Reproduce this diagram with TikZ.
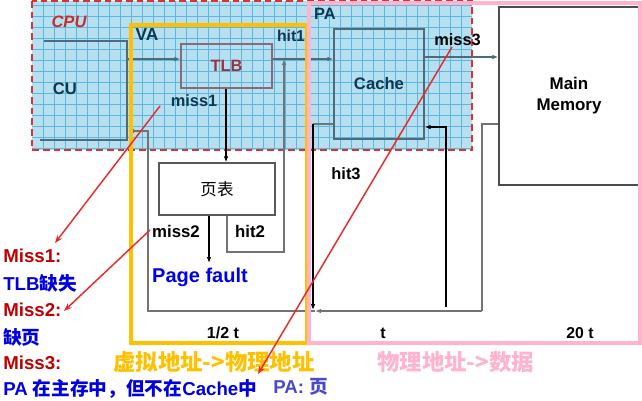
\documentclass[tikz,border=0pt]{standalone}
\usepackage{fontspec}
\setmainfont{Liberation Sans}
\newfontfamily\cjk{Noto Sans CJK SC}
\usetikzlibrary{arrows.meta}

\definecolor{gridfill}{HTML}{B6DFF0}
\definecolor{gridline}{HTML}{5DB8E0}
\definecolor{dashred}{HTML}{E03030}
\definecolor{ink}{HTML}{0E3850}
\definecolor{slate}{HTML}{4D6B7B}
\definecolor{tlbred}{HTML}{993344}
\definecolor{tlbedge}{HTML}{8A6A7A}
\definecolor{mred}{HTML}{C00000}
\definecolor{mblue}{HTML}{0000E0}
\definecolor{pfblue}{HTML}{0000EE}
\definecolor{pablue}{HTML}{4A4AC8}
\definecolor{yframe}{HTML}{FFC000}
\definecolor{pframe}{HTML}{FFB3CC}
\definecolor{redarrow}{HTML}{E82A2A}

\newcommand\fsz[1]{\fontsize{#1}{#1}\selectfont}

\tikzset{
  lbl/.style={font=\bfseries\fsz{12.3}, text=ink, inner sep=0pt},
  blk/.style={font=\bfseries\fsz{12.3}, text=black, inner sep=0pt},
  legend/.style={font=\bfseries\fsz{14}, inner sep=0pt, anchor=west},
  unitbox/.style={draw, rectangle, inner sep=0pt},
  tip/.style={-{Latex[length=4.5pt,width=3.5pt]}},
  wire/.style={line width=1.4pt, draw=slate},
  thinwire/.style={line width=0.9pt, draw=black},
  grayline/.style={line width=1.4pt, draw=black!55},
  redlink/.style={draw=redarrow, line width=1.1pt, -{Stealth[length=6pt,width=4.5pt]}},
  frame/.style={line width=2.3pt},
}

\begin{document}
\begin{tikzpicture}[x=0.75pt,y=-0.75pt]
\useasboundingbox (0,0) rectangle (642,400);

% CPU region: gridded background with dashed red outline
\fill[gridfill] (32,1) rectangle (472,150);
\begin{scope}
  \clip (32,1) rectangle (472,150);
  \foreach \gx in {43,54,...,472} \draw[gridline, line width=0.5pt] (\gx,1) -- (\gx,150);
  \foreach \gy in {5,16,...,150} \draw[gridline, line width=0.5pt] (32,\gy) -- (472,\gy);
\end{scope}
\draw[dashred, line width=1.4pt, dash pattern=on 5pt off 3pt] (32,1) rectangle (472,150);

% units
\node[unitbox, draw=tlbedge, line width=1pt, minimum width=91*0.75pt, minimum height=44*0.75pt,
      font=\bfseries\fsz{12.3}, text=tlbred] (tlb) at (226.5,66) {TLB};
\node[unitbox, draw=black!65, line width=1.1pt, minimum width=116*0.75pt, minimum height=52*0.75pt,
      font=\cjk\fsz{12.4}] (pt) at (217,189) {页表};
\node[unitbox, draw=slate, line width=1.1pt, minimum width=90*0.75pt, minimum height=110*0.75pt,
      font=\bfseries\fsz{12.5}, text=ink] (cache) at (379,84) {Cache};
\node[unitbox, draw=black!70, line width=1.1pt, minimum width=140*0.75pt, minimum height=178*0.75pt,
      font=\bfseries\fsz{12.7}, align=center] (mm) at (569,96) {Main\\[3pt]Memory};

% connector anchor points
\coordinate (cuA) at (44,41);
\coordinate (cuB) at (40,140);
\coordinate (va) at (127,59);
\coordinate (cuIn) at (128,131);
\coordinate (retX) at (148,311);
\coordinate (h2) at (284,252);
\coordinate (pf) at (209,263);
\coordinate (out) at (424,57);
\coordinate (cL) at (313,124);
\coordinate (cLd) at (313,310);
\coordinate (mR) at (482,124);
\coordinate (mRb) at (482,311);
\coordinate (mIn) at (315,311);
\coordinate (cR) at (446,127);
\coordinate (cRb) at (446,307);

% CU block outline
\draw[wire] (cuA) -| (cuB -| va) -- (cuB);
\node[lbl, font=\bfseries\fsz{12.5}] (cu) at (65,89) {CU};

% VA -> TLB -> Cache
\draw[wire, line width=1.1pt, tip] (va) -- (tlb.west |- va);
\draw[wire, line width=1.1pt, tip] (tlb.east |- va) -- (cache.west |- va);
% TLB miss -> page table
\draw[thinwire, tip] (tlb.south -| 226,0) -- (pt.north -| 226,0);
% page table miss -> page fault
\draw[thinwire, tip] (pt.south -| pf) -- (pf);
% page table hit -> PA line
\draw[grayline, line width=1.1pt, tip] (pt.south -| 227,0) |- (h2) -- (h2 |- va);
% Cache miss -> main memory
\draw[wire, line width=1.1pt, tip] (out) -- (mm.west |- out);
% Cache hit -> data back to CU
\draw[grayline, line width=1.1pt] (cache.west |- cL) -- (cL);
\draw[thinwire, tip] (cL) -- (cLd);
% Main memory -> data back
\draw[grayline] (mm.west |- mR) -- (mR) -- (mRb);
\draw[grayline, tip] (mRb) -- (mIn);
% data back into CU
\draw[grayline, line width=1.1pt, tip] (mIn) -- (retX) |- (cuIn);
% Main memory refill into Cache
\draw[thinwire, tip] (cRb) -- (cR) -- (cache.east |- cR);

% labels inside the CPU region
\node[lbl, text=dashred!90!black, font=\bfseries\itshape\fsz{12.4}] (cpu) at (69,22) {CPU};
\node[lbl, font=\bfseries\fsz{13}] (lva) at (147,35) {VA};
\node[lbl, font=\bfseries\fsz{11.8}] (lhit1) at (291,36) {hit1};
\node[lbl] (lmiss1) at (194,101) {miss1};
\node[lbl] (lpa) at (325,14) {PA};
\node[blk] (lmiss3) at (457.5,40) {miss3};

% labels below
\node[blk, font=\bfseries\fsz{12.6}] (lmiss2) at (176,231) {miss2};
\node[blk, font=\bfseries\fsz{12.6}] (lhit2) at (250,231) {hit2};
\node[inner sep=0pt, font=\bfseries\fsz{15}, text=pfblue] (pfault) at (200,277) {Page fault};
\node[blk] (lhit3) at (346,174) {hit3};
\node[blk, font=\bfseries\fsz{12}] (th) at (223,333) {1/2 t};
\node[blk, font=\bfseries\fsz{12}] (t1) at (383,333) {t};
\node[blk, font=\bfseries\fsz{11.8}] (t20) at (580,333) {20 t};

% stage frames
\draw[frame, yframe] (131,25) rectangle (307,343);
\draw[frame, pframe] (309,3) rectangle (640,343);
\node[inner sep=0pt, anchor=west, text=yframe, font=\cjk\bfseries\fsz{16.8}] (ytitle) at (113,362) {虚拟地址->物理地址};
\node[inner sep=0pt, anchor=west, text=pframe, font=\cjk\bfseries\fsz{16.8}] (ptitle) at (377,362) {物理地址->数据};
\node[legend, text=pablue] (papg) at (273,387) {PA: {\cjk 页}};

% legend on the left
\node[legend, text=mred] (m1) at (3,256) {Miss1:};
\node[legend, text=mblue] (m1t) at (3,283) {TLB{\cjk 缺失}};
\node[legend, text=mred] (m2) at (3,310) {Miss2:};
\node[legend, text=mblue] (m2t) at (3,337) {{\cjk 缺页}};
\node[legend, text=mred] (m3) at (3,363) {Miss3:};
\node[legend, text=mblue] (m3t) at (3,389) {PA {\cjk 在主存中，但不在}Cache{\cjk 中}};

% pointers from the misses to their notes
\coordinate (p1) at (160,106);
\coordinate (p2) at (150,230);
\coordinate (p3) at (452,47);
\coordinate (q1) at (55,243);
\coordinate (q2) at (64,311);
\coordinate (q3) at (258,374);
\draw[redlink] (p1) -- (q1);
\draw[redlink] (p2) -- (q2);
\draw[redlink] (p3) -- (q3);
\end{tikzpicture}
\end{document}
